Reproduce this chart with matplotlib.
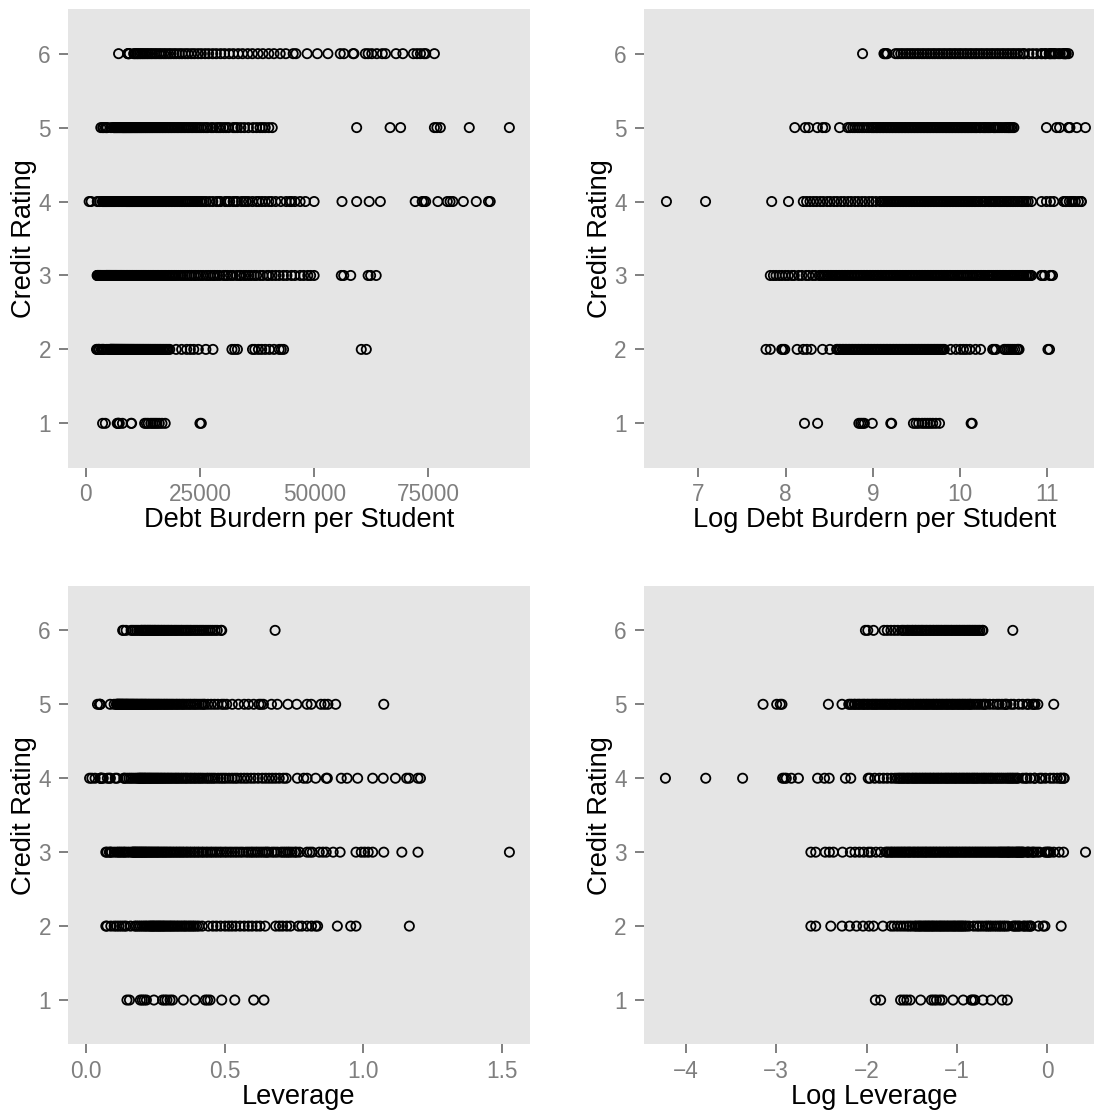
import numpy as np
import pandas as pd
import matplotlib
matplotlib.use("Agg")
import matplotlib.pyplot as plt

RATINGS = [1, 2, 3, 4, 5, 6]

# Debt burden per student, one list per credit rating
debt_r1 = [3700, 4300, 6900, 7050, 7200, 7350, 8050, 9950, 10050, 12900, 13300,
           13700, 14250, 14700, 15150, 15600, 16100, 16700, 17400, 25000, 25300]
debt_r2 = [2380, 2500, 2850, 2900, 2950, 3400, 3650, 3800, 4000, 4550, 4950, 5350,
           5400, 5510, 5580, 5710, 5790, 5910, 6000, 6130, 6220, 6350, 6450, 6580,
           6690, 6830, 6930, 7080, 7190, 7340, 7450, 7610, 7730, 7890, 8010, 8180,
           8310, 8480, 8610, 8790, 8930, 9110, 9260, 9450, 9600, 9800, 9950, 10160,
           10320, 10530, 10700, 10920, 11100, 11320, 11510, 11740, 11930, 12170,
           12370, 12610, 12820, 13080, 13290, 13560, 13780, 14050, 14290, 14570,
           14820, 15110, 15360, 15660, 15930, 16240, 16510, 16830, 17120, 17450,
           17750, 18090, 18400,
           19800, 21000, 22100, 22900, 23650, 24650, 26300, 27850, 32000, 32600,
           33200, 36500, 37000, 37800, 38500, 39300, 40200, 41200, 42350, 42800,
           43300, 60300, 61400]
debt_r3 = [2500, 2590, 2670, 2770, 2860, 2970, 3070, 3200, 3290, 3460, 3590, 3770,
           3890, 4060, 4190,
           4380, 4450, 4550, 4620, 4700, 4800, 4870, 4980, 5060, 5140, 5250, 5330,
           5440, 5520, 5640, 5720, 5850, 5930, 6060, 6150, 6280, 6380, 6510, 6610,
           6750, 6850, 7000, 7100, 7250, 7360, 7520, 7630, 7790, 7910, 8080, 8200,
           8370, 8520, 8660, 8840, 8980, 9160, 9300, 9490, 9650, 9840, 10000, 10200,
           10370, 10570, 10750, 10960, 11140, 11360, 11550, 11780, 11970, 12210,
           12410, 12650, 12860, 13120, 13330, 13600, 13820, 14090, 14330, 14610,
           14850, 15140, 15400, 15700, 15960, 16270, 16550, 16870, 17150, 17490,
           17780, 18130, 18430, 18790, 19110, 19480, 19810,
           20300, 20800, 21300, 21750, 22200, 22700, 23150, 23700, 24100, 24650,
           25180, 25700, 26320, 26800, 27300, 27850, 28230, 28800, 29350, 30140,
           30600, 31050, 31700, 32270, 33040, 33600, 33950, 34600, 35100, 35700,
           36240, 36900, 37390, 38150, 38800, 39680, 40060, 40800, 41580, 42350,
           43260, 44030, 45020, 45780, 46920, 47700, 48600, 49210, 49980,
           55930, 56460, 57990, 61800, 62340, 63560]
debt_r4 = [760, 1190, 2540, 3080,
           3650, 3790, 3940, 4100, 4250, 4430, 4590, 4800, 4970, 5190, 5380, 5620,
           5830, 6090, 6320, 6600, 6850, 7150, 7420, 7750, 8050, 8400,
           8800, 8950, 9130, 9280, 9470, 9620, 9810, 9970, 10170, 10340, 10540,
           10720, 10930, 11110, 11330, 11520, 11750, 11940, 12180, 12380, 12620,
           12830, 13090, 13300, 13570, 13790, 14060, 14300, 14580, 14820, 15110,
           15370, 15670, 15930, 16240, 16510, 16830, 17120, 17450, 17750, 18090,
           18400, 18750, 19070, 19440, 19770, 20150, 20500, 20890, 21250, 21660,
           22030, 22450, 22840, 23270, 23680, 24130, 24540, 25010, 25440, 25930,
           26380,
           27090, 27800, 28610, 29100, 29530, 30520, 31000, 31510, 32270, 32800,
           33190, 34110, 34600, 35100, 35630, 36500, 37390, 37920, 38600, 39290,
           40060, 40670, 41580, 42700, 43870, 44640, 45020, 45780, 46920, 48070,
           49980, 56080, 59290, 62030, 64470, 72100, 73630, 74010, 74390, 77060,
           79120, 79730, 80340, 82630, 85460, 88130, 88510]
debt_r5 = [3310, 3730, 3880, 4290, 4560, 4700, 5530,
           6080, 6240, 6430, 6590, 6790, 6950, 7160, 7340, 7560, 7750, 7970,
           8110, 8250, 8420, 8550, 8730, 8870, 9050, 9190, 9380, 9530, 9720, 9880,
           10080, 10240, 10450, 10620, 10830, 11010, 11230, 11410, 11640, 11830,
           12070, 12270, 12510, 12720, 12970, 13180, 13440, 13670, 13940, 14170,
           14450, 14690, 14980, 15230, 15530, 15790, 16100, 16370, 16690, 16970,
           17300, 17600, 17940, 18240, 18600, 18910, 19280, 19610, 19990, 20320,
           20720, 21070, 21480, 21840, 22270, 22640, 23090, 23480, 23930, 24340,
           24810, 25260,
           25800, 26300, 26700, 27470, 27900, 28610, 29100, 29530, 30140, 30700,
           31280, 32270, 32700, 33190, 33950, 34720, 35600, 36620, 37390, 38150,
           38700, 39290, 40060, 40820, 59290, 66610, 68900, 76300, 76840, 77600,
           83930, 92700]
debt_r6 = [7200, 9200, 9300, 9450, 9550,
           10500, 10800, 11150, 11470, 11850, 12200, 12580, 12950, 13370, 13760,
           14210, 14620, 15100, 15540, 16050, 16510, 17060, 17550, 18130, 18650,
           19270, 19820, 20480, 21070, 21770, 22390, 23140, 23800, 24590, 25300,
           26140, 26900, 27790, 28590, 29540, 30390, 31400, 32300, 33370, 34330,
           35460, 36480, 37690, 38770, 40050, 41200, 42560, 43780, 45400,
           46000, 48450, 50700, 53000, 55700, 56500, 58500, 58700, 61200, 61800,
           62600, 63700, 64900, 65600, 67900, 69400, 71700, 72500, 73250, 74000,
           74400, 76300]

# Leverage, one list per credit rating
lev_r1 = [0.149, 0.158, 0.197, 0.204, 0.211, 0.219, 0.246, 0.277, 0.285, 0.293,
          0.304, 0.313, 0.352, 0.394, 0.431, 0.439, 0.448, 0.490, 0.537, 0.605, 0.642]
lev_r2 = [0.073, 0.077, 0.091, 0.103, 0.112, 0.121, 0.130, 0.139, 0.146, 0.162,
          0.177, 0.183, 0.190, 0.197, 0.204, 0.211, 0.217, 0.223,
          0.230, 0.234, 0.239, 0.243, 0.247, 0.252, 0.257, 0.261, 0.266, 0.270,
          0.275, 0.280, 0.284, 0.290, 0.295, 0.301, 0.306, 0.311, 0.317, 0.322,
          0.329, 0.334, 0.341, 0.347, 0.354, 0.359, 0.366, 0.373, 0.379, 0.386,
          0.392, 0.400,
          0.408, 0.420, 0.442, 0.458, 0.471, 0.486, 0.502, 0.515, 0.527, 0.540,
          0.556, 0.571, 0.586, 0.599, 0.615, 0.628, 0.646, 0.684, 0.697, 0.709,
          0.724, 0.737, 0.766, 0.778, 0.797, 0.813, 0.828, 0.835, 0.906, 0.954,
          0.973, 1.165]
lev_r3 = [0.073, 0.077, 0.0855, 0.0896, 0.0937, 0.1036, 0.113, 0.119, 0.125, 0.131,
          0.138, 0.142, 0.150, 0.158, 0.167,
          0.170, 0.173, 0.177, 0.179, 0.183, 0.186, 0.190, 0.193, 0.197, 0.200,
          0.204, 0.207, 0.211, 0.215, 0.218, 0.222, 0.227, 0.230, 0.235, 0.239,
          0.243, 0.248, 0.252, 0.257, 0.261, 0.265, 0.271, 0.275, 0.281, 0.285,
          0.291, 0.295, 0.302, 0.306, 0.313, 0.318, 0.325, 0.330, 0.337, 0.342,
          0.349, 0.354, 0.362, 0.367, 0.375, 0.381, 0.389, 0.395, 0.403, 0.409,
          0.418, 0.424, 0.433, 0.440, 0.449, 0.456, 0.465, 0.473, 0.482, 0.490,
          0.500, 0.508, 0.518, 0.527, 0.537, 0.546, 0.556,
          0.565, 0.577, 0.586, 0.595, 0.602, 0.611, 0.619, 0.628, 0.637, 0.646,
          0.652, 0.659, 0.671, 0.680, 0.690, 0.703, 0.711, 0.719, 0.727, 0.734,
          0.743, 0.753, 0.759, 0.770,
          0.797, 0.807, 0.816, 0.841, 0.854, 0.866, 0.891, 0.916, 0.973, 0.992,
          1.004, 1.017, 1.033, 1.073, 1.138, 1.196, 1.525]
lev_r4 = [0.0146, 0.0228, 0.0343, 0.0534, 0.0545, 0.0556, 0.0588, 0.0636, 0.0786,
          0.0849, 0.0894, 0.107, 0.1135, 0.1377, 0.1404,
          0.148, 0.156, 0.163, 0.170, 0.178, 0.185,
          0.190, 0.194, 0.197, 0.201, 0.204, 0.208, 0.212, 0.215, 0.219, 0.224,
          0.227, 0.232, 0.235, 0.240, 0.244, 0.249, 0.253, 0.258, 0.262, 0.267,
          0.272, 0.276, 0.282, 0.286, 0.292, 0.297, 0.302, 0.308, 0.313, 0.320,
          0.325, 0.331, 0.336, 0.343, 0.349, 0.356, 0.362, 0.368, 0.376, 0.382,
          0.390, 0.396, 0.404, 0.411, 0.418, 0.426, 0.435, 0.442, 0.450,
          0.458, 0.466, 0.477, 0.487, 0.496, 0.505, 0.516, 0.527, 0.537, 0.546,
          0.559, 0.571, 0.582, 0.595, 0.607, 0.621, 0.636, 0.648, 0.660, 0.672,
          0.684, 0.697, 0.712, 0.722,
          0.762, 0.785, 0.797, 0.828, 0.866, 0.870, 0.920, 0.941, 0.979, 1.033,
          1.071, 1.115, 1.155, 1.164, 1.196, 1.205]
lev_r5 = [0.043, 0.050, 0.052, 0.053, 0.0886, 0.103,
          0.111, 0.113, 0.115, 0.118, 0.119, 0.122, 0.124, 0.126, 0.129, 0.131,
          0.133, 0.136, 0.138, 0.141, 0.144, 0.146, 0.149, 0.151, 0.154, 0.157,
          0.160, 0.163, 0.166, 0.169, 0.172, 0.175, 0.178, 0.182, 0.185, 0.188,
          0.192, 0.196, 0.199, 0.203, 0.206, 0.210, 0.214, 0.217, 0.221, 0.226,
          0.229, 0.234, 0.238, 0.243, 0.247, 0.252, 0.256, 0.261, 0.265, 0.270,
          0.275, 0.281, 0.285, 0.291, 0.295, 0.301, 0.306, 0.312, 0.317, 0.324,
          0.329, 0.335, 0.341, 0.348, 0.353, 0.360, 0.367, 0.374, 0.380, 0.388,
          0.394, 0.401, 0.409, 0.417, 0.424, 0.429,
          0.440, 0.452, 0.464, 0.476, 0.490, 0.498, 0.508, 0.528, 0.550, 0.571,
          0.586, 0.605, 0.624, 0.631, 0.640, 0.669, 0.690, 0.728, 0.760, 0.797,
          0.812, 0.847, 0.860, 0.872, 0.900, 1.073]
lev_r6 = [0.1335, 0.137, 0.146, 0.164, 0.170, 0.177, 0.184, 0.191,
          0.199, 0.202, 0.206, 0.211, 0.214, 0.218, 0.223, 0.226, 0.231, 0.234,
          0.239, 0.243, 0.248, 0.251, 0.256, 0.261, 0.265, 0.271, 0.275, 0.281,
          0.285, 0.291, 0.296, 0.301, 0.307, 0.312, 0.319, 0.324, 0.330, 0.336,
          0.343, 0.348, 0.355, 0.362, 0.368, 0.375, 0.381, 0.389, 0.396, 0.403,
          0.411, 0.418, 0.425, 0.433, 0.441, 0.449, 0.457, 0.466, 0.474,
          0.487, 0.490, 0.682]

debt_ticks = [0, 25000, 50000, 75000]
debt_labels = ["0", "25000", "50000", "75000"]
log_debt_ticks = [7, 8, 9, 10, 11]
log_debt_labels = ["7", "8", "9", "10", "11"]
lev_ticks = [0.0, 0.5, 1.0, 1.5]
lev_labels = ["0.0", "0.5", "1.0", "1.5"]
log_lev_ticks = [-4, -3, -2, -1, 0]
log_lev_labels = ["\u22124", "\u22123", "\u22122", "\u22121", "0"]

W, H = 1094, 1111
PANEL_W, PANEL_H = 461.4, 458.4
GREY_BG = "#E5E5E5"
GREY_TXT = "#7F7F7F"


def long_frame(lists, col):
    parts = [pd.DataFrame({"rating": r, col: v}) for r, v in zip(RATINGS, lists)]
    return pd.concat(parts, ignore_index=True)


def panel(fig, left_px, top_px, x, y, xlim, ticks, labels, xlabel):
    ax = fig.add_axes([left_px / W, 1 - (top_px + PANEL_H) / H,
                       PANEL_W / W, PANEL_H / H])
    ax.set_facecolor(GREY_BG)
    for s in ax.spines.values():
        s.set_visible(False)
    ax.scatter(x, y, s=44, facecolors="none", edgecolors="black", linewidths=1.3)
    ax.set_xlim(*xlim)
    ax.set_ylim(0.4, 6.6)
    ax.set_xticks(ticks, labels)
    ax.set_yticks(RATINGS, [str(r) for r in RATINGS])
    ax.tick_params(color=GREY_TXT, labelcolor=GREY_TXT, length=6.5, width=1.4,
                   labelsize=16.3)
    ax.tick_params(axis="x", pad=4.5)
    ax.tick_params(axis="y", pad=6)
    ax.set_xlabel(xlabel, fontsize=19.6, va="baseline")
    ax.xaxis.set_label_coords(0.5, -59.6 / PANEL_H)
    ax.set_ylabel("Credit Rating", fontsize=19.6, va="center")
    ax.yaxis.set_label_coords(-44.0 / PANEL_W, 0.5)
    return ax


def main():
    debt = long_frame([debt_r1, debt_r2, debt_r3, debt_r4, debt_r5, debt_r6], "debt")
    debt["log_debt"] = np.log(debt["debt"])
    lev = long_frame([lev_r1, lev_r2, lev_r3, lev_r4, lev_r5, lev_r6], "leverage")
    lev["log_leverage"] = np.log(lev["leverage"])

    plt.rcParams["font.family"] = ["Liberation Sans", "DejaVu Sans"]
    fig = plt.figure(figsize=(W / 100, H / 100), dpi=100)

    panel(fig, 68.3, 9.3, debt["debt"], debt["rating"], (-3800, 97150),
          debt_ticks, debt_labels, "Debt Burdern per Student")
    panel(fig, 644.0, 9.3, debt["log_debt"], debt["rating"], (6.376, 11.666),
          log_debt_ticks, log_debt_labels, "Log Debt Burdern per Student")
    panel(fig, 68.3, 586.0, lev["leverage"], lev["rating"], (-0.062, 1.598),
          lev_ticks, lev_labels, "Leverage")
    panel(fig, 644.0, 586.0, lev["log_leverage"], lev["rating"], (-4.464, 0.642),
          log_lev_ticks, log_lev_labels, "Log Leverage")

    fig.savefig("out.png", dpi=100)
    return 0


if __name__ == "__main__":
    raise SystemExit(main())
